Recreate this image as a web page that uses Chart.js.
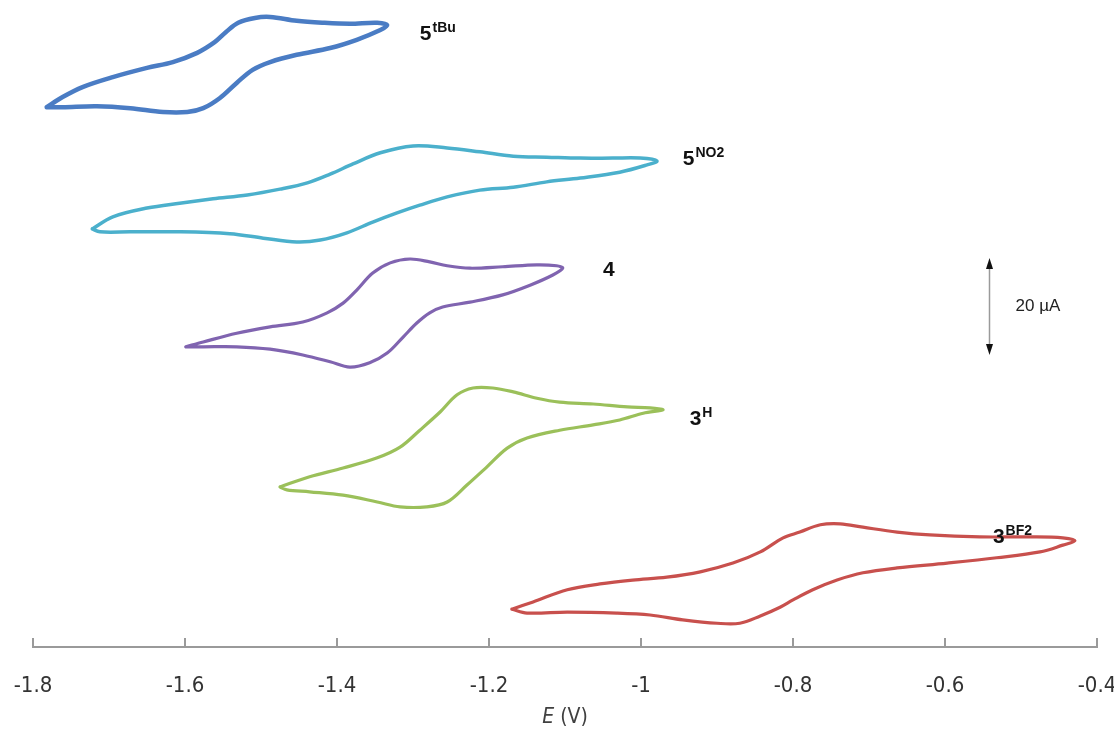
<!DOCTYPE html>
<html>
<head>
<meta charset="utf-8">
<script src="https://cdn.jsdelivr.net/npm/chart.js@4.4.1/dist/chart.umd.min.js"></script>
<style>
  html, body { margin: 0; padding: 0; background: #ffffff; }
  #wrap { width: 1114px; height: 734px; }
</style>
</head>
<body>
<div id="wrap"><canvas id="cv" width="1114" height="734"></canvas></div>
<script>
// Cyclic voltammograms, potential E (V) and current (µA, curves stacked vertically)
const tickValues = [-1.8, -1.6, -1.4, -1.2, -1.0, -0.8, -0.6, -0.4];

// 5tBu
const eTBu = [-1.782, -1.761, -1.734, -1.695, -1.650, -1.616, -1.584, -1.561, -1.546, -1.530, -1.508, -1.488, -1.453, -1.418, -1.383, -1.347, -1.334,
              -1.343, -1.374, -1.409, -1.453, -1.488, -1.511, -1.532, -1.554, -1.576, -1.597, -1.629, -1.672, -1.716, -1.761, -1.782];
const iTBu = [111.3, 113.4, 115.5, 117.5, 119.4, 120.6, 122.5, 124.7, 126.8, 128.7, 129.7, 129.9, 129.1, 128.7, 128.5, 128.7, 128.2,
              127.2, 125.2, 123.5, 122.1, 120.6, 119.0, 116.3, 113.2, 111.1, 110.3, 110.3, 111.1, 111.5, 111.3, 111.3];

// 5NO2
const eNO2 = [-1.722, -1.695, -1.650, -1.607, -1.563, -1.518, -1.475, -1.439, -1.409, -1.379, -1.343, -1.300, -1.255, -1.212, -1.168, -1.124, -1.080, -1.037, -1.001, -0.979,
              -0.992, -1.028, -1.080, -1.124, -1.168, -1.212, -1.255, -1.291, -1.321, -1.353, -1.387, -1.422, -1.453, -1.497, -1.541, -1.607, -1.672, -1.712, -1.722];
const iNO2 = [86.2, 88.7, 90.5, 91.5, 92.4, 93.2, 94.4, 95.7, 97.5, 99.6, 101.9, 103.3, 102.9, 102.1, 101.2, 101.0, 100.8, 100.8, 100.8, 100.2,
              99.4, 97.9, 96.7, 95.9, 94.8, 94.2, 92.8, 91.1, 89.5, 87.6, 85.4, 83.9, 83.5, 84.3, 85.2, 85.6, 85.6, 85.6, 86.2];

// 4
const eC4 = [-1.599, -1.576, -1.532, -1.488, -1.445, -1.413, -1.392, -1.374, -1.353, -1.330, -1.304, -1.278, -1.255, -1.225, -1.182, -1.137, -1.111, -1.103,
             -1.116, -1.146, -1.182, -1.225, -1.261, -1.278, -1.295, -1.313, -1.334, -1.357, -1.383, -1.409, -1.445, -1.488, -1.532, -1.576, -1.599];
const iC4 = [61.9, 62.9, 64.7, 66.0, 67.0, 68.9, 70.9, 73.6, 77.1, 79.2, 80.0, 79.4, 78.6, 78.1, 78.4, 78.8, 78.6, 78.1,
             76.7, 74.6, 72.6, 71.1, 70.1, 68.9, 66.8, 63.9, 60.6, 58.6, 57.7, 58.8, 60.2, 61.4, 61.9, 61.9, 61.9];

// 3H
const eH = [-1.475, -1.436, -1.392, -1.347, -1.317, -1.291, -1.264, -1.242, -1.221, -1.195, -1.168, -1.137, -1.107, -1.063, -1.018, -0.988, -0.971,
            -0.997, -1.028, -1.063, -1.107, -1.150, -1.176, -1.203, -1.229, -1.255, -1.282, -1.317, -1.347, -1.392, -1.436, -1.466, -1.475];
const iH = [33.0, 35.1, 36.9, 39.0, 41.2, 44.7, 48.5, 52.0, 53.4, 53.4, 52.6, 51.3, 50.5, 50.1, 49.5, 49.3, 48.9,
            48.2, 46.8, 45.8, 44.7, 43.1, 41.0, 37.1, 33.4, 29.9, 28.9, 28.9, 29.9, 31.3, 32.0, 32.4, 33.0];

// 3BF2
const eBF2 = [-1.170, -1.142, -1.097, -1.054, -1.011, -0.966, -0.922, -0.879, -0.843, -0.813, -0.791, -0.764, -0.738, -0.708, -0.663, -0.620, -0.554, -0.488, -0.445, -0.429,
              -0.445, -0.475, -0.532, -0.597, -0.663, -0.708, -0.742, -0.774, -0.800, -0.817, -0.843, -0.870, -0.900, -0.945, -0.988, -1.032, -1.097, -1.150, -1.170];
const iBF2 = [7.8, 9.3, 11.8, 13.0, 13.8, 14.4, 15.5, 17.3, 19.6, 22.5, 23.7, 25.2, 25.4, 24.7, 23.7, 23.1, 22.7, 22.7, 22.5, 21.9,
              21.0, 19.6, 18.4, 17.3, 16.3, 15.3, 13.8, 11.8, 9.7, 8.2, 6.4, 4.9, 4.9, 5.6, 6.6, 7.0, 7.2, 7.0, 7.8];

// Compound labels: main text, superscript, anchor (E, I)
const labelMain = ['5', '5', '4', '3', '3'];
const labelSup  = ['tBu', 'NO2', '', 'H', 'BF2'];
const labelE    = [-1.291, -0.945, -1.050, -0.936, -0.537];
const labelI    = [125.2, 99.4, 76.5, 45.8, 21.4];

// Current scale bar
const barE = -0.542;
const barFrom = 60.2;
const barTo = 80.2;
const barText = '20 µA';

function pts(xs, ys) { return xs.map((x, k) => ({ x: x, y: ys[k] })); }

const series = [
  { label: '5tBu', data: pts(eTBu, iTBu), borderColor: '#4a7cc4', borderWidth: 4.5 },
  { label: '5NO2', data: pts(eNO2, iNO2), borderColor: '#4bb0cc', borderWidth: 3.5 },
  { label: '4',    data: pts(eC4, iC4),   borderColor: '#8064b0', borderWidth: 3.2 },
  { label: '3H',   data: pts(eH, iH),     borderColor: '#9bc05a', borderWidth: 3.2 },
  { label: '3BF2', data: pts(eBF2, iBF2), borderColor: '#c8504d', borderWidth: 3.2 }
];

const decorations = {
  id: 'decorations',
  afterDraw(chart) {
    const ctx = chart.ctx;
    const xs = chart.scales.x, ys = chart.scales.y;
    const area = chart.chartArea;
    ctx.save();
    // tick marks pointing up from the axis line
    ctx.strokeStyle = '#9a9a9a';
    ctx.lineWidth = 2;
    tickValues.forEach(v => {
      const px = Math.round(xs.getPixelForValue(v));
      ctx.beginPath();
      ctx.moveTo(px, area.bottom);
      ctx.lineTo(px, area.bottom - 9);
      ctx.stroke();
    });

    // compound labels with superscripts
    ctx.fillStyle = '#111111';
    ctx.textBaseline = 'alphabetic';
    ctx.textAlign = 'left';
    labelMain.forEach((t, k) => {
      const px = xs.getPixelForValue(labelE[k]);
      const py = ys.getPixelForValue(labelI[k]);
      ctx.font = 'bold 21px "Liberation Sans", Arial, sans-serif';
      ctx.fillText(t, px, py);
      const w = ctx.measureText(t).width;
      if (labelSup[k]) {
        ctx.font = 'bold 14px "Liberation Sans", Arial, sans-serif';
        ctx.fillText(labelSup[k], px + w + 1, py - 8);
      }
    });

    // scale bar with arrowheads
    const bx = Math.round(xs.getPixelForValue(barE)) + 0.5;
    const y1 = ys.getPixelForValue(barTo);
    const y2 = ys.getPixelForValue(barFrom);
    ctx.strokeStyle = '#9a9a9a';
    ctx.lineWidth = 1.5;
    ctx.beginPath();
    ctx.moveTo(bx, y1 + 6);
    ctx.lineTo(bx, y2 - 6);
    ctx.stroke();
    ctx.fillStyle = '#111111';
    ctx.beginPath();
    ctx.moveTo(bx, y1); ctx.lineTo(bx - 3.5, y1 + 11); ctx.lineTo(bx + 3.5, y1 + 11); ctx.closePath(); ctx.fill();
    ctx.beginPath();
    ctx.moveTo(bx, y2); ctx.lineTo(bx - 3.5, y2 - 11); ctx.lineTo(bx + 3.5, y2 - 11); ctx.closePath(); ctx.fill();
    ctx.font = '17px "Liberation Sans", Arial, sans-serif';
    ctx.fillStyle = '#222222';
    ctx.textBaseline = 'middle';
    ctx.fillText(barText, bx + 26, (y1 + y2) / 2);

    // axis title: italic E followed by (V)
    const fontA = 'italic 21px "Liberation Sans Narrow", "DejaVu Sans Condensed", sans-serif';
    const fontB = '21px "Liberation Sans Narrow", "DejaVu Sans Condensed", sans-serif';
    const partA = 'E';
    const partB = ' (V)';
    ctx.font = fontA;
    const wA = ctx.measureText(partA).width;
    ctx.font = fontB;
    const wB = ctx.measureText(partB).width;
    const cx = (area.left + area.right) / 2;
    const ty = 718;
    ctx.fillStyle = '#404040';
    ctx.textBaseline = 'middle';
    const sx = cx - (wA + wB) / 2;
    ctx.font = fontA;
    ctx.fillText(partA, sx, ty);
    ctx.font = fontB;
    ctx.fillText(partB, sx + wA, ty);
    ctx.restore();
  }
};

new Chart(document.getElementById('cv'), {
  type: 'scatter',
  data: {
    datasets: series.map(s => Object.assign({
      showLine: true,
      fill: false,
      pointRadius: 0,
      pointHoverRadius: 0,
      tension: 0.35,
      borderCapStyle: 'round',
      borderJoinStyle: 'round'
    }, s))
  },
  options: {
    responsive: false,
    animation: false,
    devicePixelRatio: 1,
    layout: { padding: { left: 33, right: 17, top: 0, bottom: 0 } },
    plugins: { legend: { display: false }, tooltip: { enabled: false } },
    scales: {
      x: {
        type: 'linear',
        min: -1.8,
        max: -0.4,
        afterFit(scale) { scale.height = 87; scale.paddingLeft = 0; scale.paddingRight = 0; },
        afterBuildTicks(scale) { scale.ticks = tickValues.map(v => ({ value: v })); },
        grid: { display: false, drawTicks: false },
        border: { display: true, color: '#9a9a9a', width: 2 },
        ticks: {
          padding: 26,
          color: '#333333',
          font: { family: '"Liberation Sans Narrow", "DejaVu Sans Condensed", sans-serif', size: 22 },
          callback: v => String(Number(v.toFixed(1)))
        }
      },
      y: {
        type: 'linear',
        display: false,
        min: 0,
        max: 133.4
      }
    }
  },
  plugins: [decorations]
});
</script>
</body>
</html>
